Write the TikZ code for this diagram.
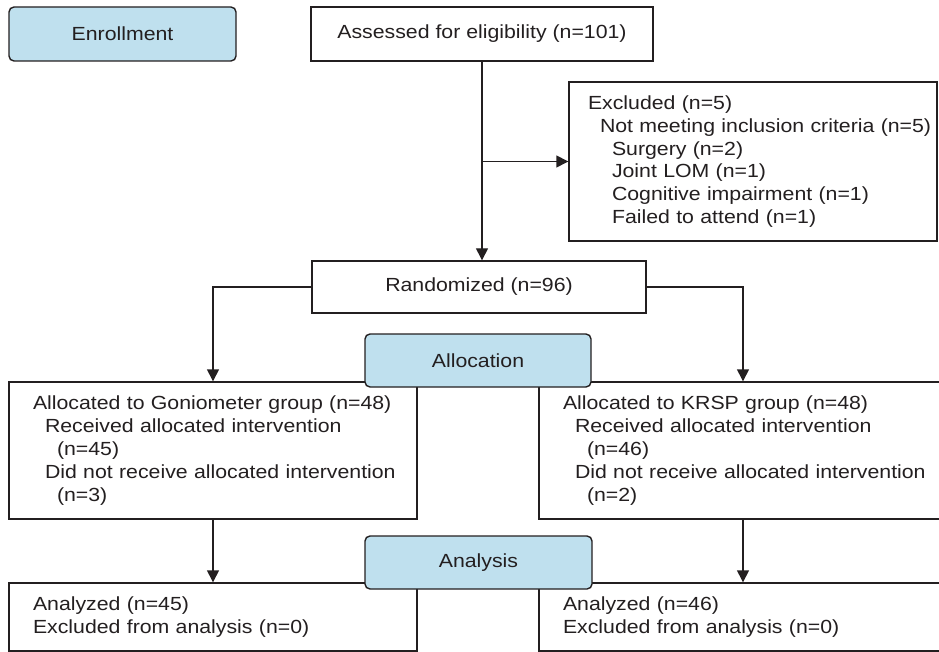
\documentclass[tikz,border=0pt]{standalone}
\usepackage{fontspec}
\setmainfont[FakeStretch=1.12]{Liberation Sans}
\usetikzlibrary{arrows.meta}
\definecolor{phase}{RGB}{191,224,238}
\definecolor{ink}{RGB}{35,31,32}
\newcommand\rowtxt[1]{\mbox{#1}}
\begin{document}
\begin{tikzpicture}[x=1pt,y=-1pt,
  font=\fontsize{19}{22.8}\selectfont,
  box/.style={draw=ink, line width=1.4pt, fill=white, text=ink, inner ysep=0pt},
  txtbox/.style={box, align=left, inner xsep=24pt},
  phasebox/.style={draw=ink, line width=1.4pt, fill=phase, rounded corners=5pt, text=ink},
  arr/.style={draw=ink, line width=1.4pt, -{Triangle[length=12pt,width=12pt]}},
  ]
\useasboundingbox (0,0) rectangle (939,652);

% white boxes
\node[box, minimum width=342pt, minimum height=54pt] (assess) at (482,34) {Assessed for eligibility (n=101)};
\node[txtbox, inner xsep=19pt, text width=330pt, minimum width=368pt, minimum height=159pt] (excl) at (753,161.5)
  {\rowtxt{Excluded (n=5)}\\
   \rowtxt{\hspace*{12pt}Not meeting inclusion criteria (n=5)}\\
   \rowtxt{\hspace*{24pt}Surgery (n=2)}\\
   \rowtxt{\hspace*{24pt}Joint LOM (n=1)}\\
   \rowtxt{\hspace*{24pt}Cognitive impairment (n=1)}\\
   \rowtxt{\hspace*{24pt}Failed to attend (n=1)}};
\node[box, minimum width=334pt, minimum height=52pt] (rand) at (479,287) {Randomized (n=96)};
\node[txtbox, text width=360pt, minimum width=408pt, minimum height=137pt] (gonio) at (213,450.5)
  {\rowtxt{Allocated to Goniometer group (n=48)}\\
   \rowtxt{\hspace*{12pt}Received allocated intervention}\\
   \rowtxt{\hspace*{24pt}(n=45)}\\
   \rowtxt{\hspace*{12pt}Did not receive allocated intervention}\\
   \rowtxt{\hspace*{24pt}(n=3)}};
\node[txtbox, text width=354pt, minimum width=402pt, minimum height=137pt] (krsp) at (740,450.5)
  {\rowtxt{Allocated to KRSP group (n=48)}\\
   \rowtxt{\hspace*{12pt}Received allocated intervention}\\
   \rowtxt{\hspace*{24pt}(n=46)}\\
   \rowtxt{\hspace*{12pt}Did not receive allocated intervention}\\
   \rowtxt{\hspace*{24pt}(n=2)}};
\node[txtbox, text width=360pt, minimum width=408pt, minimum height=68pt] (anl) at (213,617)
  {\rowtxt{Analyzed (n=45)}\\ \rowtxt{Excluded from analysis (n=0)}};
\node[txtbox, text width=354pt, minimum width=402pt, minimum height=68pt] (anr) at (740,617)
  {\rowtxt{Analyzed (n=46)}\\ \rowtxt{Excluded from analysis (n=0)}};

% connectors
\draw[arr] (assess.south) -- (assess.south |- rand.north);
\draw[arr] (assess.south |- excl.west) -- (excl.west);
\draw[arr] (rand.west) -| (gonio.north);
\draw[arr] (rand.east) -| ([xshift=3pt]krsp.north);
\draw[arr] (gonio.south) -- (gonio.south |- anl.north);
\draw[arr] ([xshift=3pt]krsp.south) -- ([xshift=3pt]krsp.south |- anr.north);

% phase boxes
\node[phasebox, minimum width=227pt, minimum height=54pt] (enroll) at (122.5,34) {Enrollment};
\node[phasebox, minimum width=226pt, minimum height=53pt] (alloc) at (478,360.5) {Allocation};
\node[phasebox, minimum width=227pt, minimum height=53pt] (analysis) at (478.5,562.5) {Analysis};
\end{tikzpicture}
\end{document}
